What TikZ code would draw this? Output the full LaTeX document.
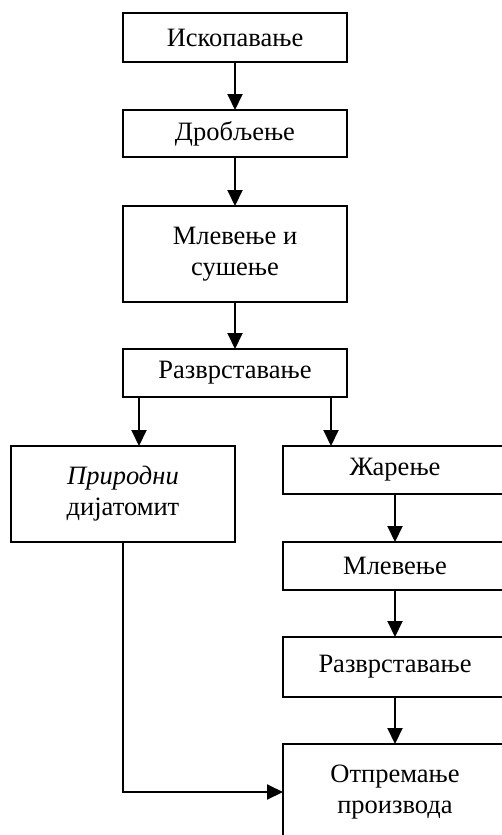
\documentclass[tikz,border=0pt]{standalone}
\usepackage{fontspec}
\setmainfont{Liberation Serif}
\usetikzlibrary{arrows.meta,positioning}

\begin{document}
\begin{tikzpicture}[>={Triangle[length=16pt,width=15pt]}, line width=2pt,
	   every node/.style={font=\fontsize{26.5}{31}\selectfont},
	   stepbox/.style={rectangle, draw, minimum width=224pt, minimum height=#1,
	                   inner sep=0pt, outer sep=0pt, align=center},
	   stepbox/.default=48pt]
	\useasboundingbox (0,0) rectangle (501pt,-835pt);

	%% Common line
	\node [stepbox=49pt] (digging) at (235pt,-37.5pt) {Ископавање};
	\node [stepbox=47pt,below=48pt of digging] (crushing) {Дробљење};
	\node [stepbox=96pt,below=49pt of crushing] (milling) {Млевење и\\сушење};
	\node [stepbox,below=47pt of milling] (sorting) {Разврставање};

	%% Natural product
	\node [stepbox=96pt,below=49pt of sorting,xshift=-112pt] (natural) {\textit{Природни}\\дијатомит};

	%% Calcined product
	\node [stepbox,below=49pt of sorting,xshift=160pt] (calcining) {Жарење};
	\node [stepbox,below=48pt of calcining] (regrinding) {Млевење};
	\node [stepbox=60pt,below=47pt of regrinding] (resorting) {Разврставање};
	\node [stepbox=96pt,below=47pt of resorting] (shipping) {Отпремање\\производа};

	%% Paths
	\draw[->] (digging) -- (crushing);
	\draw[->] (crushing) -- (milling);
	\draw[->] (milling) -- (sorting);
	\draw[->] ([xshift=16pt]sorting.south west) -- ([xshift=16pt]sorting.south west |- natural.north);
	\draw[->] ([xshift=-16pt]sorting.south east) -- ([xshift=-16pt]sorting.south east |- calcining.north);
	\draw[->] (calcining) -- (regrinding);
	\draw[->] (regrinding) -- (resorting);
	\draw[->] (resorting) -- (shipping);
	\draw[->] (natural.south) |- (shipping.west);
\end{tikzpicture}
\end{document}
